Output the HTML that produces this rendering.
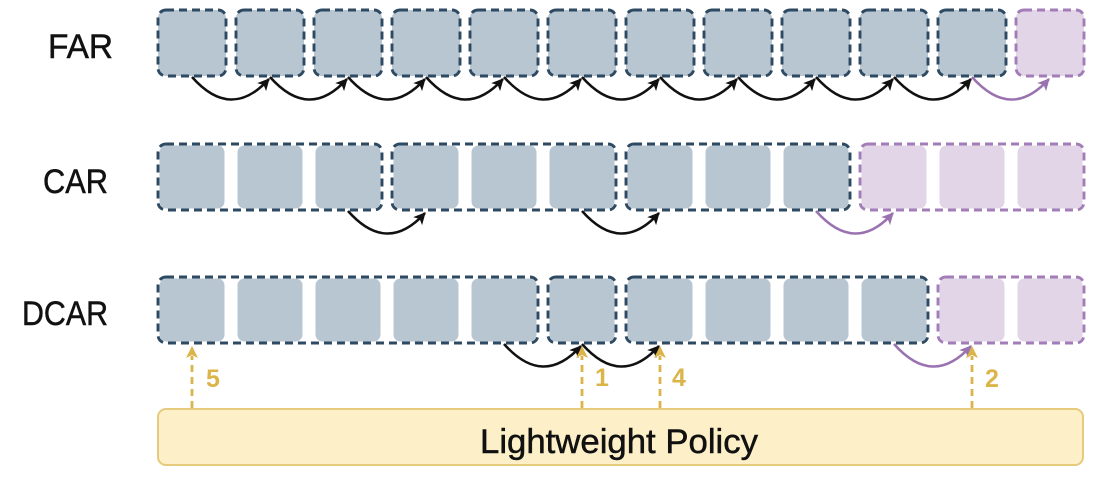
<!DOCTYPE html>
<html>
<head>
<meta charset="utf-8">
<style>
  html,body{margin:0;padding:0;background:#ffffff;}
  body{width:1100px;height:487px;overflow:hidden;}
  svg{display:block;}
  .lbl{font-family:"Liberation Sans",sans-serif;font-size:34px;fill:#111;stroke:#111;stroke-width:0.5;}
  .num{font-family:"Liberation Sans",sans-serif;font-size:25px;font-weight:bold;fill:#dbb44a;}
</style>
</head>
<body>
<svg width="1100" height="487" viewBox="0 0 1100 487" xmlns="http://www.w3.org/2000/svg">
  <defs>
    <marker id="ab" markerUnits="userSpaceOnUse" markerWidth="14" markerHeight="14" refX="11" refY="6" orient="auto">
      <path d="M0,0 L12,6 L0,12 L3,6 Z" fill="#111"/>
    </marker>
    <marker id="ap" markerUnits="userSpaceOnUse" markerWidth="14" markerHeight="14" refX="11" refY="6" orient="auto">
      <path d="M0,0 L12,6 L0,12 L3,6 Z" fill="#9a72b0"/>
    </marker>
  </defs>

  <!-- Labels -->
  <text class="lbl" x="48" y="58" textLength="65" lengthAdjust="spacingAndGlyphs">FAR</text>
  <text class="lbl" x="43" y="193" textLength="65" lengthAdjust="spacingAndGlyphs">CAR</text>
  <text class="lbl" x="22" y="325" textLength="86" lengthAdjust="spacingAndGlyphs">DCAR</text>

  <!-- FAR row: individual boxes -->
  <g stroke="#2d4a62" stroke-width="2.9" stroke-dasharray="8 5" fill="#b8c6d2">
    <rect x="158" y="10" width="68" height="66" rx="8"/>
    <rect x="236" y="10" width="68" height="66" rx="8"/>
    <rect x="314" y="10" width="68" height="66" rx="8"/>
    <rect x="392" y="10" width="68" height="66" rx="8"/>
    <rect x="470" y="10" width="68" height="66" rx="8"/>
    <rect x="548" y="10" width="68" height="66" rx="8"/>
    <rect x="626" y="10" width="68" height="66" rx="8"/>
    <rect x="704" y="10" width="68" height="66" rx="8"/>
    <rect x="782" y="10" width="68" height="66" rx="8"/>
    <rect x="860" y="10" width="68" height="66" rx="8"/>
    <rect x="938" y="10" width="68" height="66" rx="8"/>
  </g>
  <rect x="1016" y="10" width="68" height="66" rx="8" fill="#e2d5e8" stroke="#a27db8" stroke-width="2.9" stroke-dasharray="8 5"/>

  <!-- FAR arrows -->
  <g fill="none" stroke="#111" stroke-width="2.5" marker-end="url(#ab)">
    <path d="M192 77 Q231 121 269 79"/>
    <path d="M270 77 Q309 121 347 79"/>
    <path d="M348 77 Q387 121 425 79"/>
    <path d="M426 77 Q465 121 503 79"/>
    <path d="M504 77 Q543 121 581 79"/>
    <path d="M582 77 Q621 121 659 79"/>
    <path d="M660 77 Q699 121 737 79"/>
    <path d="M738 77 Q777 121 815 79"/>
    <path d="M816 77 Q855 121 893 79"/>
    <path d="M894 77 Q933 121 971 79"/>
  </g>
  <path d="M972 77 Q1011 121 1049 79" fill="none" stroke="#9a72b0" stroke-width="2.5" marker-end="url(#ap)"/>

  <!-- CAR row fills -->
  <g fill="#b8c6d2">
    <rect x="159.5" y="145.5" width="65" height="63" rx="7"/>
    <rect x="237.5" y="145.5" width="65" height="63" rx="7"/>
    <rect x="315.5" y="145.5" width="65" height="63" rx="7"/>
    <rect x="393.5" y="145.5" width="65" height="63" rx="7"/>
    <rect x="471.5" y="145.5" width="65" height="63" rx="7"/>
    <rect x="549.5" y="145.5" width="65" height="63" rx="7"/>
    <rect x="627.5" y="145.5" width="65" height="63" rx="7"/>
    <rect x="705.5" y="145.5" width="65" height="63" rx="7"/>
    <rect x="783.5" y="145.5" width="65" height="63" rx="7"/>
  </g>
  <g fill="#e2d5e8">
    <rect x="861.5" y="145.5" width="65" height="63" rx="7"/>
    <rect x="939.5" y="145.5" width="65" height="63" rx="7"/>
    <rect x="1017.5" y="145.5" width="65" height="63" rx="7"/>
  </g>
  <g fill="none" stroke="#2d4a62" stroke-width="2.9" stroke-dasharray="8 5">
    <rect x="158" y="144" width="224" height="66" rx="8"/>
    <rect x="392" y="144" width="224" height="66" rx="8"/>
    <rect x="626" y="144" width="224" height="66" rx="8"/>
  </g>
  <rect x="860" y="144" width="224" height="66" rx="8" fill="none" stroke="#a27db8" stroke-width="2.9" stroke-dasharray="8 5"/>

  <!-- CAR arrows -->
  <g fill="none" stroke="#111" stroke-width="2.5" marker-end="url(#ab)">
    <path d="M348 211 Q387 255 425 213"/>
    <path d="M582 211 Q621 255 659 213"/>
  </g>
  <path d="M816 211 Q855 255 893 213" fill="none" stroke="#9a72b0" stroke-width="2.5" marker-end="url(#ap)"/>

  <!-- DCAR row fills -->
  <g fill="#b8c6d2">
    <rect x="159.5" y="278.5" width="65" height="63" rx="7"/>
    <rect x="237.5" y="278.5" width="65" height="63" rx="7"/>
    <rect x="315.5" y="278.5" width="65" height="63" rx="7"/>
    <rect x="393.5" y="278.5" width="65" height="63" rx="7"/>
    <rect x="471.5" y="278.5" width="65" height="63" rx="7"/>
    <rect x="549.5" y="278.5" width="65" height="63" rx="7"/>
    <rect x="627.5" y="278.5" width="65" height="63" rx="7"/>
    <rect x="705.5" y="278.5" width="65" height="63" rx="7"/>
    <rect x="783.5" y="278.5" width="65" height="63" rx="7"/>
    <rect x="861.5" y="278.5" width="65" height="63" rx="7"/>
  </g>
  <g fill="#e2d5e8">
    <rect x="939.5" y="278.5" width="65" height="63" rx="7"/>
    <rect x="1017.5" y="278.5" width="65" height="63" rx="7"/>
  </g>
  <g fill="none" stroke="#2d4a62" stroke-width="2.9" stroke-dasharray="8 5">
    <rect x="158" y="277" width="380" height="66" rx="8"/>
    <rect x="548" y="277" width="68" height="66" rx="8"/>
    <rect x="626" y="277" width="302" height="66" rx="8"/>
  </g>
  <rect x="938" y="277" width="146" height="66" rx="8" fill="none" stroke="#a27db8" stroke-width="2.9" stroke-dasharray="8 5"/>

  <!-- DCAR arrows -->
  <g fill="none" stroke="#111" stroke-width="2.5" marker-end="url(#ab)">
    <path d="M504 344 Q543 388 581 346"/>
    <path d="M582 344 Q621 388 659 346"/>
  </g>
  <path d="M894 344 Q933 388 971 346" fill="none" stroke="#9a72b0" stroke-width="2.5" marker-end="url(#ap)"/>

  <!-- Policy box -->
  <rect x="158" y="409" width="925" height="56" rx="8" fill="#fdf0c9" stroke="#e6cb7c" stroke-width="2"/>
  <text class="lbl" x="480" y="453" textLength="278" lengthAdjust="spacingAndGlyphs">Lightweight Policy</text>

  <!-- Yellow dashed arrows -->
  <g fill="none" stroke="#dbb44a" stroke-width="2.8" stroke-dasharray="7 5">
    <path d="M192 408 L192 356"/>
    <path d="M582 408 L582 356"/>
    <path d="M660 408 L660 356"/>
    <path d="M972 408 L972 356"/>
  </g>
  <g fill="#dbb44a">
    <path d="M192 346 L186 358 L192 355 L198 358 Z"/>
    <path d="M582 346 L576 358 L582 355 L588 358 Z"/>
    <path d="M660 346 L654 358 L660 355 L666 358 Z"/>
    <path d="M972 346 L966 358 L972 355 L978 358 Z"/>
  </g>
  <text class="num" x="206" y="387">5</text>
  <text class="num" x="595" y="386">1</text>
  <text class="num" x="672" y="386">4</text>
  <text class="num" x="985" y="387">2</text>
</svg>
</body>
</html>
